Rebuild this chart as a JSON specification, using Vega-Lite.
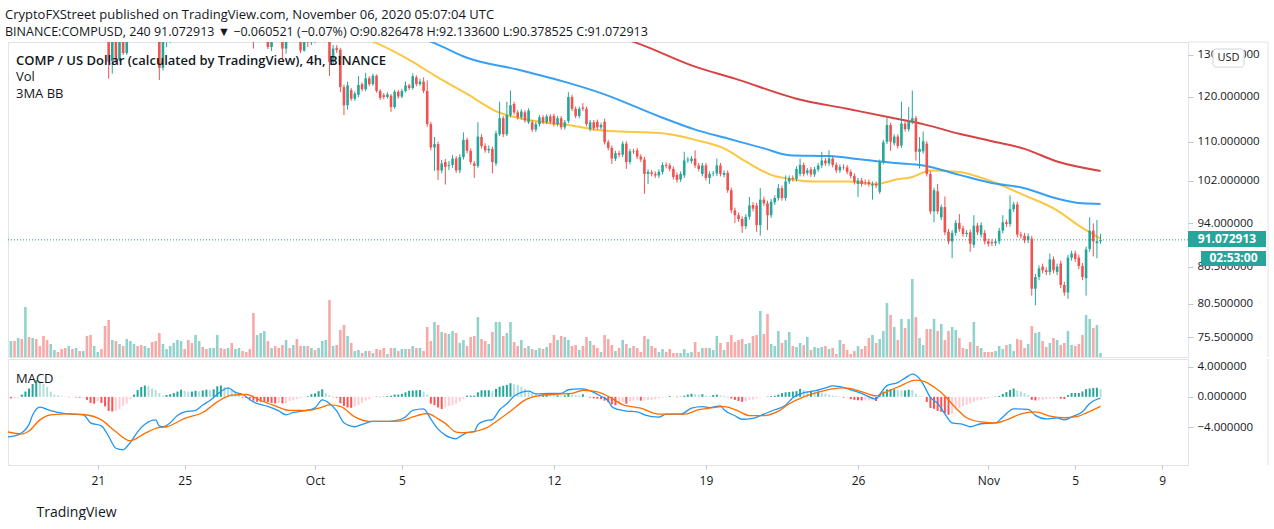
{
  "$schema": "https://vega.github.io/schema/vega-lite/v6.json",
  "description": "COMP / US Dollar 4h candles with 3 moving averages, volume and MACD (TradingView snapshot, Nov 06 2020)",
  "background": "white",
  "padding": {"left": 5, "top": 8, "right": 0, "bottom": 0},
  "title": {
    "text": "CryptoFXStreet published on TradingView.com, November 06, 2020 05:07:04 UTC",
    "subtitle": "BINANCE:COMPUSD, 240  91.072913 ▼ −0.060521 (−0.07%)  O:90.826478  H:92.133600  L:90.378525  C:91.072913",
    "anchor": "start",
    "dx": -2,
    "fontSize": 13,
    "fontWeight": "normal",
    "subtitleFontSize": 12.5,
    "color": "#131722",
    "subtitleColor": "#131722",
    "subtitlePadding": 4,
    "offset": 3
  },
  "datasets": {
    "candles": [
      {"t":"2020-09-17T00:00Z","o":140,"h":143,"l":139.5,"c":142,"v":16,"m":-0.2},
      {"t":"2020-09-17T04:00Z","o":142,"h":143,"l":140,"c":141,"v":16,"m":-0.15},
      {"t":"2020-09-17T08:00Z","o":141,"h":145,"l":140.5,"c":144,"v":19,"m":-0.1},
      {"t":"2020-09-17T12:00Z","o":144,"h":145,"l":142,"c":143,"v":18,"m":0.3},
      {"t":"2020-09-17T16:00Z","o":143,"h":152,"l":142.5,"c":150,"v":50,"m":0.7},
      {"t":"2020-09-17T20:00Z","o":150,"h":151,"l":147,"c":148,"v":20,"m":1.1},
      {"t":"2020-09-18T00:00Z","o":148,"h":152,"l":147.5,"c":151,"v":19,"m":1.7},
      {"t":"2020-09-18T04:00Z","o":151,"h":153,"l":149,"c":150,"v":18,"m":2.2},
      {"t":"2020-09-18T08:00Z","o":150,"h":151,"l":148,"c":149,"v":11,"m":2.1},
      {"t":"2020-09-18T12:00Z","o":149,"h":150,"l":145,"c":146,"v":21,"m":1.7},
      {"t":"2020-09-18T16:00Z","o":146,"h":147,"l":144,"c":145,"v":17,"m":1.3},
      {"t":"2020-09-18T20:00Z","o":145,"h":147,"l":144,"c":146.5,"v":13,"m":0.7},
      {"t":"2020-09-19T00:00Z","o":146.5,"h":148,"l":146,"c":147,"v":7,"m":0.3},
      {"t":"2020-09-19T04:00Z","o":147,"h":148,"l":146,"c":146.5,"v":5,"m":0.2},
      {"t":"2020-09-19T08:00Z","o":146.5,"h":147,"l":145.5,"c":146,"v":8,"m":0.1},
      {"t":"2020-09-19T12:00Z","o":146,"h":146.5,"l":144.5,"c":145,"v":9,"m":0.05},
      {"t":"2020-09-19T16:00Z","o":145,"h":146.5,"l":144.5,"c":146,"v":11,"m":-0.05},
      {"t":"2020-09-19T20:00Z","o":146,"h":146.5,"l":145,"c":145.5,"v":8,"m":-0.05},
      {"t":"2020-09-20T00:00Z","o":145.5,"h":146.5,"l":145,"c":146,"v":9,"m":-0.08},
      {"t":"2020-09-20T04:00Z","o":146,"h":146.5,"l":145,"c":145.5,"v":6,"m":-0.1},
      {"t":"2020-09-20T08:00Z","o":145.5,"h":146.5,"l":145,"c":146,"v":6,"m":-0.1},
      {"t":"2020-09-20T12:00Z","o":146,"h":146.5,"l":141,"c":142,"v":21,"m":-0.4},
      {"t":"2020-09-20T16:00Z","o":142,"h":142.5,"l":138,"c":139,"v":22,"m":-0.8},
      {"t":"2020-09-20T20:00Z","o":139,"h":141,"l":138,"c":140,"v":11,"m":-0.9},
      {"t":"2020-09-21T00:00Z","o":140,"h":141,"l":139.5,"c":140.5,"v":5,"m":-0.6},
      {"t":"2020-09-21T04:00Z","o":140.5,"h":141,"l":138.5,"c":139,"v":8,"m":-0.8},
      {"t":"2020-09-21T08:00Z","o":139,"h":139.5,"l":133.6,"c":134.5,"v":31,"m":-1.26},
      {"t":"2020-09-21T12:00Z","o":134.5,"h":135,"l":124.2,"c":128.3,"v":37,"m":-1.85},
      {"t":"2020-09-21T16:00Z","o":128.5,"h":135,"l":125.4,"c":134,"v":17,"m":-1.93},
      {"t":"2020-09-21T20:00Z","o":134,"h":134.5,"l":127.8,"c":128.5,"v":16,"m":-1.85},
      {"t":"2020-09-22T00:00Z","o":128.8,"h":136,"l":128.5,"c":135.5,"v":13,"m":-1.65},
      {"t":"2020-09-22T04:00Z","o":135.5,"h":136,"l":130,"c":130.5,"v":11,"m":-1.2},
      {"t":"2020-09-22T08:00Z","o":130.5,"h":136.5,"l":130,"c":136,"v":18,"m":-0.9},
      {"t":"2020-09-22T12:00Z","o":136,"h":139,"l":134,"c":138,"v":16,"m":-0.3},
      {"t":"2020-09-22T16:00Z","o":138,"h":141,"l":137.5,"c":140,"v":13,"m":0.3},
      {"t":"2020-09-22T20:00Z","o":140,"h":141,"l":138,"c":139,"v":11,"m":0.9},
      {"t":"2020-09-23T00:00Z","o":139,"h":140,"l":137,"c":138,"v":12,"m":1.3},
      {"t":"2020-09-23T04:00Z","o":138,"h":140,"l":137.5,"c":139,"v":11,"m":1.5},
      {"t":"2020-09-23T08:00Z","o":139,"h":141,"l":138.5,"c":140,"v":9,"m":1.45},
      {"t":"2020-09-23T12:00Z","o":140,"h":140.5,"l":136,"c":137,"v":15,"m":1.1},
      {"t":"2020-09-23T16:00Z","o":137,"h":137.5,"l":133.8,"c":134,"v":16,"m":0.9},
      {"t":"2020-09-23T20:00Z","o":134,"h":134.5,"l":123.9,"c":126.8,"v":24,"m":0.5},
      {"t":"2020-09-24T00:00Z","o":126.8,"h":136,"l":126.2,"c":135,"v":13,"m":0.15},
      {"t":"2020-09-24T04:00Z","o":135,"h":138,"l":132,"c":137,"v":8,"m":0.25},
      {"t":"2020-09-24T08:00Z","o":137,"h":140,"l":133,"c":139,"v":11,"m":0.35},
      {"t":"2020-09-24T12:00Z","o":139,"h":142,"l":138.5,"c":141,"v":14,"m":0.5},
      {"t":"2020-09-24T16:00Z","o":141,"h":144,"l":140.5,"c":143,"v":17,"m":0.7},
      {"t":"2020-09-24T20:00Z","o":143,"h":146,"l":142.5,"c":145,"v":16,"m":0.95},
      {"t":"2020-09-25T00:00Z","o":145,"h":146,"l":143,"c":144,"v":8,"m":0.8},
      {"t":"2020-09-25T04:00Z","o":144,"h":145,"l":141,"c":142,"v":17,"m":0.7},
      {"t":"2020-09-25T08:00Z","o":142,"h":143,"l":140,"c":141,"v":14,"m":0.7},
      {"t":"2020-09-25T12:00Z","o":141,"h":146,"l":140.5,"c":145,"v":22,"m":0.8},
      {"t":"2020-09-25T16:00Z","o":145,"h":148,"l":144.5,"c":147,"v":16,"m":0.75},
      {"t":"2020-09-25T20:00Z","o":147,"h":148,"l":145,"c":146,"v":10,"m":0.85},
      {"t":"2020-09-26T00:00Z","o":146,"h":147,"l":145,"c":145.5,"v":8,"m":0.95},
      {"t":"2020-09-26T04:00Z","o":145.5,"h":148,"l":145,"c":147,"v":9,"m":0.9},
      {"t":"2020-09-26T08:00Z","o":147,"h":149,"l":146.5,"c":148,"v":9,"m":1.0},
      {"t":"2020-09-26T12:00Z","o":148,"h":153,"l":147.5,"c":152,"v":22,"m":1.4},
      {"t":"2020-09-26T16:00Z","o":152,"h":153,"l":150,"c":151,"v":9,"m":1.5},
      {"t":"2020-09-26T20:00Z","o":151,"h":152,"l":149,"c":150,"v":8,"m":1.3},
      {"t":"2020-09-27T00:00Z","o":150,"h":152,"l":149.5,"c":151,"v":9,"m":1.15},
      {"t":"2020-09-27T04:00Z","o":151,"h":151.5,"l":147,"c":148,"v":14,"m":0.9},
      {"t":"2020-09-27T08:00Z","o":148,"h":150,"l":147.5,"c":149,"v":8,"m":0.7},
      {"t":"2020-09-27T12:00Z","o":149,"h":150.5,"l":148.5,"c":149.5,"v":9,"m":0.4},
      {"t":"2020-09-27T16:00Z","o":149.5,"h":150,"l":147.5,"c":148,"v":6,"m":-0.1},
      {"t":"2020-09-27T20:00Z","o":148,"h":148.5,"l":146.5,"c":147,"v":5,"m":-0.15},
      {"t":"2020-09-28T00:00Z","o":147,"h":147.5,"l":144,"c":145,"v":8,"m":-0.25},
      {"t":"2020-09-28T04:00Z","o":145,"h":145.5,"l":131.6,"c":136,"v":44,"m":-0.5},
      {"t":"2020-09-28T08:00Z","o":136,"h":140,"l":135,"c":139,"v":22,"m":-0.65},
      {"t":"2020-09-28T12:00Z","o":139,"h":142,"l":138,"c":141,"v":24,"m":-0.66},
      {"t":"2020-09-28T16:00Z","o":141,"h":143,"l":140,"c":142,"v":26,"m":-0.68},
      {"t":"2020-09-28T20:00Z","o":142,"h":142.5,"l":131.5,"c":132,"v":16,"m":-0.7},
      {"t":"2020-09-29T00:00Z","o":132,"h":138,"l":131,"c":137,"v":9,"m":-0.8},
      {"t":"2020-09-29T04:00Z","o":137,"h":138,"l":135,"c":135.5,"v":11,"m":-0.85},
      {"t":"2020-09-29T08:00Z","o":135.5,"h":136,"l":133.5,"c":134,"v":9,"m":-0.82},
      {"t":"2020-09-29T12:00Z","o":134,"h":134.5,"l":128.7,"c":131.6,"v":12,"m":-0.86},
      {"t":"2020-09-29T16:00Z","o":131.6,"h":137,"l":130.3,"c":136,"v":17,"m":-0.85},
      {"t":"2020-09-29T20:00Z","o":136,"h":137,"l":134,"c":135,"v":9,"m":-0.55},
      {"t":"2020-09-30T00:00Z","o":135,"h":138,"l":134.5,"c":137,"v":12,"m":-0.45},
      {"t":"2020-09-30T04:00Z","o":137,"h":137.5,"l":134,"c":135,"v":18,"m":-0.3},
      {"t":"2020-09-30T08:00Z","o":135,"h":135.5,"l":130.5,"c":131.1,"v":11,"m":-0.15},
      {"t":"2020-09-30T12:00Z","o":131.1,"h":134.5,"l":130.8,"c":134,"v":11,"m":-0.05},
      {"t":"2020-09-30T16:00Z","o":134,"h":135,"l":132,"c":133.2,"v":11,"m":0.1},
      {"t":"2020-09-30T20:00Z","o":133.2,"h":135.5,"l":132.5,"c":134.5,"v":9,"m":0.35},
      {"t":"2020-10-01T00:00Z","o":134.5,"h":135.5,"l":133,"c":133.8,"v":7,"m":0.45},
      {"t":"2020-10-01T04:00Z","o":133.8,"h":136,"l":133.5,"c":135,"v":9,"m":0.75},
      {"t":"2020-10-01T08:00Z","o":135,"h":137.5,"l":134.5,"c":136.5,"v":16,"m":1.0},
      {"t":"2020-10-01T12:00Z","o":136.5,"h":139,"l":136,"c":137.5,"v":17,"m":0.5},
      {"t":"2020-10-01T16:00Z","o":137.5,"h":138,"l":124.8,"c":128.3,"v":57,"m":0.2},
      {"t":"2020-10-01T20:00Z","o":128.3,"h":132.5,"l":127.5,"c":131.6,"v":11,"m":-0.05},
      {"t":"2020-10-02T00:00Z","o":131.8,"h":132.5,"l":130.5,"c":131.3,"v":12,"m":-0.1},
      {"t":"2020-10-02T04:00Z","o":131.3,"h":131.8,"l":121,"c":122.2,"v":27,"m":-0.85},
      {"t":"2020-10-02T08:00Z","o":122.2,"h":122.8,"l":115.8,"c":118,"v":32,"m":-1.2},
      {"t":"2020-10-02T12:00Z","o":118,"h":123.5,"l":117,"c":122.6,"v":21,"m":-1.4},
      {"t":"2020-10-02T16:00Z","o":121.5,"h":122,"l":119,"c":119.5,"v":14,"m":-1.45},
      {"t":"2020-10-02T20:00Z","o":119.5,"h":121.2,"l":119,"c":120.7,"v":6,"m":-1.3},
      {"t":"2020-10-03T00:00Z","o":120.4,"h":124.8,"l":119.8,"c":122.7,"v":7,"m":-1.1},
      {"t":"2020-10-03T04:00Z","o":122.9,"h":123.3,"l":121.2,"c":121.7,"v":4,"m":-0.8},
      {"t":"2020-10-03T08:00Z","o":121.7,"h":125.6,"l":121.2,"c":124.3,"v":6,"m":-0.5},
      {"t":"2020-10-03T12:00Z","o":124.3,"h":124.8,"l":122.4,"c":122.9,"v":6,"m":-0.3},
      {"t":"2020-10-03T16:00Z","o":122.9,"h":125.4,"l":122.5,"c":124.9,"v":4,"m":-0.05},
      {"t":"2020-10-03T20:00Z","o":124.9,"h":125.2,"l":120.9,"c":121.3,"v":8,"m":0.05},
      {"t":"2020-10-04T00:00Z","o":121.3,"h":121.7,"l":119.2,"c":119.7,"v":7,"m":-0.05},
      {"t":"2020-10-04T04:00Z","o":120.3,"h":120.8,"l":119.4,"c":119.9,"v":9,"m":0.05},
      {"t":"2020-10-04T08:00Z","o":119.9,"h":121,"l":119.5,"c":120.5,"v":3,"m":0.1},
      {"t":"2020-10-04T12:00Z","o":120.2,"h":120.6,"l":116.5,"c":117.6,"v":9,"m":0.15},
      {"t":"2020-10-04T16:00Z","o":117.6,"h":121.6,"l":117.2,"c":121.1,"v":9,"m":0.3},
      {"t":"2020-10-04T20:00Z","o":121.1,"h":121.5,"l":119.5,"c":120,"v":6,"m":0.3},
      {"t":"2020-10-05T00:00Z","o":120,"h":121.8,"l":119.6,"c":121.3,"v":8,"m":0.4},
      {"t":"2020-10-05T04:00Z","o":121.3,"h":123.5,"l":121,"c":122.6,"v":8,"m":0.6},
      {"t":"2020-10-05T08:00Z","o":122.6,"h":123,"l":121.5,"c":122,"v":8,"m":0.8},
      {"t":"2020-10-05T12:00Z","o":122,"h":125.5,"l":121.6,"c":124.8,"v":11,"m":0.85},
      {"t":"2020-10-05T16:00Z","o":124.5,"h":125,"l":122.4,"c":122.9,"v":9,"m":0.87},
      {"t":"2020-10-05T20:00Z","o":122.9,"h":124.2,"l":122.5,"c":123.5,"v":9,"m":0.9},
      {"t":"2020-10-06T00:00Z","o":123.5,"h":124.5,"l":120.8,"c":121.3,"v":6,"m":0.7},
      {"t":"2020-10-06T04:00Z","o":121.3,"h":123.8,"l":113.2,"c":113.8,"v":30,"m":0.3},
      {"t":"2020-10-06T08:00Z","o":113.8,"h":114.3,"l":108.2,"c":108.8,"v":16,"m":-0.9},
      {"t":"2020-10-06T12:00Z","o":108.8,"h":111,"l":104,"c":109.5,"v":35,"m":-1.1},
      {"t":"2020-10-06T16:00Z","o":109.5,"h":110,"l":102.2,"c":104.1,"v":32,"m":-1.4},
      {"t":"2020-10-06T20:00Z","o":104.1,"h":106.2,"l":103.5,"c":105.5,"v":25,"m":-1.6},
      {"t":"2020-10-07T00:00Z","o":105.8,"h":106.4,"l":101.3,"c":104.8,"v":24,"m":-1.4},
      {"t":"2020-10-07T04:00Z","o":105,"h":106,"l":104.2,"c":105.2,"v":23,"m":-1.2},
      {"t":"2020-10-07T08:00Z","o":105.2,"h":107.2,"l":104.6,"c":106.5,"v":26,"m":-1.1},
      {"t":"2020-10-07T12:00Z","o":106.5,"h":107,"l":103.6,"c":104.1,"v":24,"m":-0.9},
      {"t":"2020-10-07T16:00Z","o":104.1,"h":107.4,"l":103.5,"c":106.8,"v":14,"m":-0.6},
      {"t":"2020-10-07T20:00Z","o":106.8,"h":112,"l":106.3,"c":110.4,"v":17,"m":-0.25},
      {"t":"2020-10-08T00:00Z","o":110.4,"h":110.9,"l":107.6,"c":108.1,"v":11,"m":0.16},
      {"t":"2020-10-08T04:00Z","o":108.1,"h":108.6,"l":105.3,"c":105.8,"v":20,"m":0.16},
      {"t":"2020-10-08T08:00Z","o":105.5,"h":106,"l":102.6,"c":105,"v":21,"m":0.16},
      {"t":"2020-10-08T12:00Z","o":105,"h":114.2,"l":104.6,"c":111.1,"v":40,"m":0.6},
      {"t":"2020-10-08T16:00Z","o":111,"h":111.6,"l":108.6,"c":109.1,"v":18,"m":0.87},
      {"t":"2020-10-08T20:00Z","o":109.1,"h":109.7,"l":107.7,"c":108.2,"v":16,"m":0.87},
      {"t":"2020-10-09T00:00Z","o":108.2,"h":109.2,"l":107.6,"c":108.5,"v":13,"m":0.87},
      {"t":"2020-10-09T04:00Z","o":108.5,"h":109,"l":103.5,"c":105.8,"v":25,"m":0.75},
      {"t":"2020-10-09T08:00Z","o":105.5,"h":112.4,"l":105,"c":111.8,"v":35,"m":1.06},
      {"t":"2020-10-09T12:00Z","o":111.6,"h":118.8,"l":111.2,"c":115.1,"v":35,"m":1.34},
      {"t":"2020-10-09T16:00Z","o":115.1,"h":115.6,"l":111,"c":111.6,"v":21,"m":1.46},
      {"t":"2020-10-09T20:00Z","o":111.6,"h":118.8,"l":111.2,"c":115.8,"v":24,"m":1.58},
      {"t":"2020-10-10T00:00Z","o":115.8,"h":121.4,"l":115.3,"c":118,"v":35,"m":1.8},
      {"t":"2020-10-10T04:00Z","o":118.3,"h":118.8,"l":115.9,"c":116.4,"v":15,"m":1.66},
      {"t":"2020-10-10T08:00Z","o":116.4,"h":116.9,"l":114.8,"c":115.3,"v":11,"m":1.58},
      {"t":"2020-10-10T12:00Z","o":115.3,"h":117.1,"l":114.8,"c":116.6,"v":17,"m":1.34},
      {"t":"2020-10-10T16:00Z","o":116.4,"h":116.9,"l":114.1,"c":114.6,"v":9,"m":1.06},
      {"t":"2020-10-10T20:00Z","o":114.2,"h":117.3,"l":113.8,"c":116.8,"v":11,"m":0.67},
      {"t":"2020-10-11T00:00Z","o":114.2,"h":114.7,"l":112.1,"c":112.6,"v":8,"m":0.47},
      {"t":"2020-10-11T04:00Z","o":112.6,"h":114.3,"l":112.1,"c":113.8,"v":7,"m":0.35},
      {"t":"2020-10-11T08:00Z","o":113.8,"h":115.8,"l":113.3,"c":115.3,"v":9,"m":0.28},
      {"t":"2020-10-11T12:00Z","o":115.3,"h":115.8,"l":113.8,"c":114.2,"v":8,"m":0.28},
      {"t":"2020-10-11T16:00Z","o":114.2,"h":116,"l":113.8,"c":115.5,"v":10,"m":0.35},
      {"t":"2020-10-11T20:00Z","o":115.5,"h":116,"l":113.8,"c":114.3,"v":14,"m":0.3},
      {"t":"2020-10-12T00:00Z","o":115.6,"h":116.1,"l":113.3,"c":113.8,"v":22,"m":0.2},
      {"t":"2020-10-12T04:00Z","o":113.8,"h":115.6,"l":113.3,"c":115.1,"v":17,"m":0.2},
      {"t":"2020-10-12T08:00Z","o":115.1,"h":115.6,"l":112.6,"c":113.1,"v":21,"m":0.15},
      {"t":"2020-10-12T12:00Z","o":113.1,"h":114.7,"l":112.6,"c":114.2,"v":20,"m":0.2},
      {"t":"2020-10-12T16:00Z","o":114.5,"h":121,"l":114,"c":119.9,"v":17,"m":0.4},
      {"t":"2020-10-12T20:00Z","o":119.9,"h":120.4,"l":116.7,"c":117.2,"v":11,"m":0.3},
      {"t":"2020-10-13T00:00Z","o":117.2,"h":117.7,"l":115.1,"c":115.6,"v":12,"m":0.25},
      {"t":"2020-10-13T04:00Z","o":115.6,"h":117.7,"l":115.1,"c":117.2,"v":7,"m":0.2},
      {"t":"2020-10-13T08:00Z","o":117.5,"h":118.5,"l":116.7,"c":117.2,"v":11,"m":0.35},
      {"t":"2020-10-13T12:00Z","o":117.2,"h":117.7,"l":113.3,"c":113.8,"v":20,"m":0.05},
      {"t":"2020-10-13T16:00Z","o":112.7,"h":114.7,"l":112.2,"c":114.2,"v":16,"m":-0.1},
      {"t":"2020-10-13T20:00Z","o":114.2,"h":114.7,"l":112.4,"c":112.9,"v":12,"m":-0.2},
      {"t":"2020-10-14T00:00Z","o":114.3,"h":114.8,"l":112.6,"c":113.1,"v":9,"m":-0.25},
      {"t":"2020-10-14T04:00Z","o":113.1,"h":114.1,"l":112.6,"c":113.6,"v":5,"m":-0.3},
      {"t":"2020-10-14T08:00Z","o":114.3,"h":115,"l":109.4,"c":109.9,"v":22,"m":-0.5},
      {"t":"2020-10-14T12:00Z","o":109.9,"h":110.4,"l":108.2,"c":108.7,"v":18,"m":-0.7},
      {"t":"2020-10-14T16:00Z","o":108.7,"h":109.2,"l":105.4,"c":106.5,"v":12,"m":-1.0},
      {"t":"2020-10-14T20:00Z","o":106.5,"h":108.1,"l":106,"c":107.6,"v":6,"m":-1.1},
      {"t":"2020-10-15T00:00Z","o":107.6,"h":108.1,"l":106.8,"c":107.3,"v":9,"m":-0.9},
      {"t":"2020-10-15T04:00Z","o":107.3,"h":110.1,"l":106.8,"c":109.6,"v":17,"m":-0.7},
      {"t":"2020-10-15T08:00Z","o":109.6,"h":110.1,"l":104.4,"c":105.8,"v":13,"m":-0.9},
      {"t":"2020-10-15T12:00Z","o":105.8,"h":108.5,"l":105.3,"c":108,"v":9,"m":-0.6},
      {"t":"2020-10-15T16:00Z","o":108,"h":108.5,"l":107.4,"c":107.9,"v":11,"m":-0.5},
      {"t":"2020-10-15T20:00Z","o":108.2,"h":108.7,"l":106.4,"c":106.9,"v":9,"m":-0.45},
      {"t":"2020-10-16T00:00Z","o":106.9,"h":107.4,"l":105.8,"c":106.3,"v":5,"m":-0.5},
      {"t":"2020-10-16T04:00Z","o":106.3,"h":106.8,"l":99.5,"c":103.4,"v":21,"m":-0.5},
      {"t":"2020-10-16T08:00Z","o":103.4,"h":104.3,"l":101.4,"c":103.8,"v":18,"m":-0.4},
      {"t":"2020-10-16T12:00Z","o":103.7,"h":104.2,"l":102.9,"c":103.4,"v":11,"m":-0.4},
      {"t":"2020-10-16T16:00Z","o":103.4,"h":103.9,"l":102.6,"c":103.1,"v":9,"m":-0.3},
      {"t":"2020-10-16T20:00Z","o":103.1,"h":104.3,"l":102.6,"c":103.8,"v":5,"m":-0.2},
      {"t":"2020-10-17T00:00Z","o":103.8,"h":105.7,"l":103.3,"c":105.2,"v":8,"m":-0.1},
      {"t":"2020-10-17T04:00Z","o":105.2,"h":105.7,"l":104.5,"c":105,"v":5,"m":-0.05},
      {"t":"2020-10-17T08:00Z","o":105.1,"h":105.6,"l":103.9,"c":104.4,"v":8,"m":0.1},
      {"t":"2020-10-17T12:00Z","o":104.4,"h":104.9,"l":102.3,"c":102.8,"v":4,"m":0.05},
      {"t":"2020-10-17T16:00Z","o":103.2,"h":103.7,"l":101.7,"c":102.2,"v":4,"m":-0.05},
      {"t":"2020-10-17T20:00Z","o":102.3,"h":103.9,"l":101.8,"c":103.4,"v":4,"m":0.05},
      {"t":"2020-10-18T00:00Z","o":103.1,"h":107.9,"l":102.6,"c":106.1,"v":8,"m":0.15},
      {"t":"2020-10-18T04:00Z","o":106.1,"h":106.8,"l":105.6,"c":106.3,"v":4,"m":0.3},
      {"t":"2020-10-18T08:00Z","o":106,"h":107,"l":105.5,"c":106.5,"v":5,"m":0.4},
      {"t":"2020-10-18T12:00Z","o":106.5,"h":108.2,"l":104.6,"c":105.1,"v":15,"m":0.35},
      {"t":"2020-10-18T16:00Z","o":105.1,"h":105.6,"l":103.9,"c":104.4,"v":5,"m":0.3},
      {"t":"2020-10-18T20:00Z","o":103.4,"h":105.6,"l":102.9,"c":105.1,"v":9,"m":0.35},
      {"t":"2020-10-19T00:00Z","o":105.1,"h":105.6,"l":102.1,"c":102.6,"v":9,"m":0.15},
      {"t":"2020-10-19T04:00Z","o":102.6,"h":103.9,"l":101.4,"c":103.4,"v":9,"m":0.1},
      {"t":"2020-10-19T08:00Z","o":103.4,"h":104,"l":102.9,"c":103.5,"v":7,"m":0.25},
      {"t":"2020-10-19T12:00Z","o":103.5,"h":106.5,"l":103,"c":105.1,"v":21,"m":0.3},
      {"t":"2020-10-19T16:00Z","o":105.1,"h":105.6,"l":102.9,"c":103.4,"v":14,"m":0.2},
      {"t":"2020-10-19T20:00Z","o":103.2,"h":104.1,"l":102.7,"c":103.6,"v":7,"m":0.15},
      {"t":"2020-10-20T00:00Z","o":103.6,"h":104.1,"l":99.7,"c":100.2,"v":15,"m":-0.05},
      {"t":"2020-10-20T04:00Z","o":100.2,"h":100.7,"l":95.9,"c":96.4,"v":22,"m":-0.2},
      {"t":"2020-10-20T08:00Z","o":96.4,"h":96.9,"l":94.1,"c":95.5,"v":15,"m":-0.4},
      {"t":"2020-10-20T12:00Z","o":95.5,"h":96,"l":94.3,"c":94.8,"v":17,"m":-0.55},
      {"t":"2020-10-20T16:00Z","o":94.8,"h":95.3,"l":92.3,"c":93.5,"v":18,"m":-0.65},
      {"t":"2020-10-20T20:00Z","o":93.5,"h":95.7,"l":93,"c":95.2,"v":13,"m":-0.6},
      {"t":"2020-10-21T00:00Z","o":95.2,"h":98.9,"l":94.7,"c":97.3,"v":14,"m":-0.4},
      {"t":"2020-10-21T04:00Z","o":97.4,"h":97.9,"l":96.2,"c":96.7,"v":21,"m":-0.35},
      {"t":"2020-10-21T08:00Z","o":97.3,"h":97.8,"l":92.5,"c":93.7,"v":22,"m":-0.2},
      {"t":"2020-10-21T12:00Z","o":93.7,"h":100.6,"l":91.8,"c":98.4,"v":46,"m":-0.1},
      {"t":"2020-10-21T16:00Z","o":98.4,"h":99,"l":97.2,"c":97.7,"v":23,"m":-0.05},
      {"t":"2020-10-21T20:00Z","o":97.7,"h":98.2,"l":92.8,"c":95.5,"v":43,"m":0.05},
      {"t":"2020-10-22T00:00Z","o":95.5,"h":98.5,"l":95,"c":98,"v":13,"m":0.1},
      {"t":"2020-10-22T04:00Z","o":97.9,"h":99.2,"l":97.4,"c":98.7,"v":11,"m":0.15},
      {"t":"2020-10-22T08:00Z","o":98.7,"h":101.4,"l":98.2,"c":100.6,"v":26,"m":0.3},
      {"t":"2020-10-22T12:00Z","o":100.6,"h":101.1,"l":98.2,"c":98.7,"v":14,"m":0.5},
      {"t":"2020-10-22T16:00Z","o":98.7,"h":103.1,"l":98.2,"c":101.9,"v":17,"m":0.6},
      {"t":"2020-10-22T20:00Z","o":101.9,"h":103.1,"l":101.4,"c":102.6,"v":25,"m":0.65},
      {"t":"2020-10-23T00:00Z","o":102.6,"h":103.1,"l":101.9,"c":102.4,"v":11,"m":0.7},
      {"t":"2020-10-23T04:00Z","o":102.4,"h":104.9,"l":101.9,"c":104.4,"v":10,"m":0.75},
      {"t":"2020-10-23T08:00Z","o":103.4,"h":106.5,"l":102.9,"c":105.2,"v":14,"m":1.06},
      {"t":"2020-10-23T12:00Z","o":105.2,"h":105.7,"l":102.9,"c":103.4,"v":12,"m":0.9},
      {"t":"2020-10-23T16:00Z","o":103.6,"h":104.6,"l":103.1,"c":104.1,"v":20,"m":0.7},
      {"t":"2020-10-23T20:00Z","o":104.3,"h":104.8,"l":102.8,"c":103.3,"v":7,"m":0.8},
      {"t":"2020-10-24T00:00Z","o":103.3,"h":104.8,"l":102.8,"c":104.3,"v":10,"m":0.6},
      {"t":"2020-10-24T04:00Z","o":104.3,"h":105.6,"l":103.8,"c":105.1,"v":9,"m":0.7},
      {"t":"2020-10-24T08:00Z","o":105.1,"h":107.9,"l":104.6,"c":106.1,"v":10,"m":0.6},
      {"t":"2020-10-24T12:00Z","o":106.1,"h":106.6,"l":105,"c":105.5,"v":11,"m":0.45},
      {"t":"2020-10-24T16:00Z","o":105.5,"h":108.2,"l":105,"c":106.5,"v":8,"m":0.3},
      {"t":"2020-10-24T20:00Z","o":106.5,"h":107,"l":104.7,"c":105.2,"v":9,"m":0.2},
      {"t":"2020-10-25T00:00Z","o":105.2,"h":105.7,"l":103.6,"c":104.1,"v":3,"m":0.1},
      {"t":"2020-10-25T04:00Z","o":104.1,"h":105.3,"l":103.6,"c":104.8,"v":17,"m":0.05},
      {"t":"2020-10-25T08:00Z","o":104.8,"h":105.3,"l":104.2,"c":104.7,"v":13,"m":-0.1},
      {"t":"2020-10-25T12:00Z","o":104.7,"h":105.2,"l":103.3,"c":103.8,"v":7,"m":-0.1},
      {"t":"2020-10-25T16:00Z","o":103.8,"h":104.3,"l":102.5,"c":103,"v":3,"m":-0.3},
      {"t":"2020-10-25T20:00Z","o":103,"h":103.5,"l":101.3,"c":101.8,"v":6,"m":-0.4},
      {"t":"2020-10-26T00:00Z","o":101.4,"h":102.6,"l":98.9,"c":102.1,"v":11,"m":-0.45},
      {"t":"2020-10-26T04:00Z","o":102.1,"h":102.6,"l":100.9,"c":101.4,"v":8,"m":-0.47},
      {"t":"2020-10-26T08:00Z","o":101.8,"h":102.3,"l":101.2,"c":101.7,"v":11,"m":-0.47},
      {"t":"2020-10-26T12:00Z","o":101.8,"h":102.3,"l":100.9,"c":101.4,"v":19,"m":-0.47},
      {"t":"2020-10-26T16:00Z","o":101.1,"h":101.9,"l":98.4,"c":101.4,"v":22,"m":-0.45},
      {"t":"2020-10-26T20:00Z","o":101.4,"h":101.9,"l":100.6,"c":101.1,"v":14,"m":-0.55},
      {"t":"2020-10-27T00:00Z","o":99.9,"h":106.3,"l":99.5,"c":105.8,"v":18,"m":0.3},
      {"t":"2020-10-27T04:00Z","o":105.8,"h":110.4,"l":105.3,"c":109.9,"v":26,"m":0.7},
      {"t":"2020-10-27T08:00Z","o":110,"h":115.2,"l":109.5,"c":113.6,"v":54,"m":1.0},
      {"t":"2020-10-27T12:00Z","o":113.6,"h":114.1,"l":108.1,"c":110,"v":42,"m":1.0},
      {"t":"2020-10-27T16:00Z","o":109.7,"h":111.6,"l":109.2,"c":111.1,"v":30,"m":1.0},
      {"t":"2020-10-27T20:00Z","o":111.1,"h":111.6,"l":108.6,"c":109.1,"v":17,"m":0.9},
      {"t":"2020-10-28T00:00Z","o":109.2,"h":118.8,"l":108.7,"c":113.9,"v":38,"m":0.85},
      {"t":"2020-10-28T04:00Z","o":113.9,"h":114.4,"l":112.2,"c":112.7,"v":29,"m":0.85},
      {"t":"2020-10-28T08:00Z","o":112.7,"h":117.6,"l":112.2,"c":114.3,"v":38,"m":0.95},
      {"t":"2020-10-28T12:00Z","o":114.3,"h":121.4,"l":113.8,"c":115.1,"v":78,"m":0.9},
      {"t":"2020-10-28T16:00Z","o":115.1,"h":115.6,"l":106.1,"c":107.9,"v":40,"m":0.4},
      {"t":"2020-10-28T20:00Z","o":107.9,"h":111,"l":104.5,"c":108.5,"v":19,"m":0.1},
      {"t":"2020-10-29T00:00Z","o":108,"h":112.2,"l":107.5,"c":110.1,"v":12,"m":0.05},
      {"t":"2020-10-29T04:00Z","o":109.6,"h":110.1,"l":102.9,"c":103.4,"v":28,"m":-0.67},
      {"t":"2020-10-29T08:00Z","o":103.4,"h":103.9,"l":95.7,"c":96.2,"v":28,"m":-1.46},
      {"t":"2020-10-29T12:00Z","o":96.2,"h":100.7,"l":94.2,"c":100.2,"v":38,"m":-1.58},
      {"t":"2020-10-29T16:00Z","o":100,"h":101.4,"l":95.7,"c":96.2,"v":26,"m":-1.86},
      {"t":"2020-10-29T20:00Z","o":95.1,"h":97.5,"l":94.6,"c":97,"v":33,"m":-1.97},
      {"t":"2020-10-30T00:00Z","o":97,"h":99,"l":91.9,"c":92.4,"v":17,"m":-2.13},
      {"t":"2020-10-30T04:00Z","o":92.5,"h":93,"l":90.3,"c":90.8,"v":26,"m":-2.37},
      {"t":"2020-10-30T08:00Z","o":90.8,"h":92.8,"l":87.9,"c":92.3,"v":30,"m":-2.25},
      {"t":"2020-10-30T12:00Z","o":92.3,"h":94.6,"l":91.8,"c":94.1,"v":27,"m":-1.74},
      {"t":"2020-10-30T16:00Z","o":94.1,"h":95.7,"l":92.5,"c":93,"v":19,"m":-1.46},
      {"t":"2020-10-30T20:00Z","o":93.1,"h":93.6,"l":91.6,"c":92.1,"v":9,"m":-1.26},
      {"t":"2020-10-31T00:00Z","o":92.1,"h":92.8,"l":91.6,"c":92.3,"v":8,"m":-1.07},
      {"t":"2020-10-31T04:00Z","o":92.4,"h":92.9,"l":89,"c":90.4,"v":15,"m":-0.87},
      {"t":"2020-10-31T08:00Z","o":90.2,"h":95.5,"l":89.7,"c":93.6,"v":35,"m":-0.67},
      {"t":"2020-10-31T12:00Z","o":93.6,"h":94.1,"l":91.9,"c":92.4,"v":11,"m":-0.47},
      {"t":"2020-10-31T16:00Z","o":92,"h":94.2,"l":91.5,"c":93.7,"v":9,"m":-0.4},
      {"t":"2020-10-31T20:00Z","o":92.3,"h":92.8,"l":90.3,"c":90.8,"v":5,"m":-0.28},
      {"t":"2020-11-01T00:00Z","o":90.8,"h":91.3,"l":89.9,"c":90.4,"v":5,"m":-0.16},
      {"t":"2020-11-01T04:00Z","o":90.7,"h":91.2,"l":90,"c":90.5,"v":5,"m":-0.08},
      {"t":"2020-11-01T08:00Z","o":90.5,"h":91.3,"l":90,"c":90.8,"v":6,"m":0.05},
      {"t":"2020-11-01T12:00Z","o":90.8,"h":93.2,"l":90.3,"c":92.7,"v":11,"m":0.12},
      {"t":"2020-11-01T16:00Z","o":92.7,"h":95.5,"l":92.2,"c":94.2,"v":8,"m":0.39},
      {"t":"2020-11-01T20:00Z","o":94.2,"h":94.7,"l":93.4,"c":93.9,"v":12,"m":0.63},
      {"t":"2020-11-02T00:00Z","o":93.9,"h":99.2,"l":93.4,"c":96.6,"v":13,"m":0.9},
      {"t":"2020-11-02T04:00Z","o":96.6,"h":98,"l":96.1,"c":97.5,"v":6,"m":1.1},
      {"t":"2020-11-02T08:00Z","o":97.5,"h":98,"l":91.5,"c":92,"v":18,"m":0.83},
      {"t":"2020-11-02T12:00Z","o":92,"h":92.5,"l":91.3,"c":91.8,"v":17,"m":0.71},
      {"t":"2020-11-02T16:00Z","o":91.8,"h":92.3,"l":90.5,"c":91,"v":9,"m":0.51},
      {"t":"2020-11-02T20:00Z","o":91,"h":92.2,"l":90.5,"c":91.7,"v":13,"m":0.24},
      {"t":"2020-11-03T00:00Z","o":91.3,"h":91.8,"l":81.8,"c":82.9,"v":31,"m":-0.4},
      {"t":"2020-11-03T04:00Z","o":82.9,"h":85.3,"l":80.3,"c":84.8,"v":24,"m":-0.47},
      {"t":"2020-11-03T08:00Z","o":84.8,"h":86.7,"l":84.3,"c":86.2,"v":25,"m":-0.47},
      {"t":"2020-11-03T12:00Z","o":86.5,"h":87,"l":85.4,"c":85.9,"v":16,"m":-0.4},
      {"t":"2020-11-03T16:00Z","o":85.9,"h":86.4,"l":85.1,"c":85.6,"v":10,"m":-0.3},
      {"t":"2020-11-03T20:00Z","o":85.6,"h":88.7,"l":85.1,"c":87.7,"v":14,"m":-0.24},
      {"t":"2020-11-04T00:00Z","o":87.7,"h":88.2,"l":85.4,"c":85.9,"v":19,"m":-0.24},
      {"t":"2020-11-04T04:00Z","o":85.6,"h":87,"l":85.1,"c":86.5,"v":17,"m":-0.16},
      {"t":"2020-11-04T08:00Z","o":87,"h":87.5,"l":83,"c":83.5,"v":12,"m":-0.24},
      {"t":"2020-11-04T12:00Z","o":83.5,"h":84,"l":81.8,"c":82.3,"v":14,"m":-0.28},
      {"t":"2020-11-04T16:00Z","o":82.3,"h":88.5,"l":81.3,"c":88,"v":26,"m":0.24},
      {"t":"2020-11-04T20:00Z","o":88,"h":89.2,"l":87.5,"c":88.7,"v":12,"m":0.51},
      {"t":"2020-11-05T00:00Z","o":88.7,"h":89.2,"l":87.3,"c":87.8,"v":11,"m":0.51},
      {"t":"2020-11-05T04:00Z","o":88,"h":88.5,"l":86.1,"c":86.6,"v":13,"m":0.51},
      {"t":"2020-11-05T08:00Z","o":86.6,"h":87.1,"l":84.3,"c":84.8,"v":22,"m":0.71},
      {"t":"2020-11-05T12:00Z","o":84.6,"h":89.9,"l":81.8,"c":89.4,"v":42,"m":1.02},
      {"t":"2020-11-05T16:00Z","o":89.5,"h":95.1,"l":89,"c":92.7,"v":38,"m":1.1},
      {"t":"2020-11-05T20:00Z","o":92.7,"h":94,"l":88.2,"c":90.8,"v":29,"m":1.18},
      {"t":"2020-11-06T00:00Z","o":90.5,"h":94.6,"l":87.9,"c":90.83,"v":32,"m":1.2},
      {"t":"2020-11-06T04:00Z","o":90.826478,"h":92.1336,"l":90.378525,"c":91.072913,"v":4,"m":1.05}
    ],
    "ma": [
      {"t":"2020-10-01T16:00Z","s":"ma1","v":137},
      {"t":"2020-10-03T20:00Z","s":"ma1","v":133},
      {"t":"2020-10-05T12:00Z","s":"ma1","v":128.3},
      {"t":"2020-10-06T12:00Z","s":"ma1","v":125},
      {"t":"2020-10-08T00:00Z","s":"ma1","v":120.6},
      {"t":"2020-10-09T12:00Z","s":"ma1","v":116.3},
      {"t":"2020-10-10T08:00Z","s":"ma1","v":115.2},
      {"t":"2020-10-11T20:00Z","s":"ma1","v":114},
      {"t":"2020-10-12T16:00Z","s":"ma1","v":113.6},
      {"t":"2020-10-14T04:00Z","s":"ma1","v":112.4},
      {"t":"2020-10-15T20:00Z","s":"ma1","v":112.1},
      {"t":"2020-10-17T08:00Z","s":"ma1","v":111.6},
      {"t":"2020-10-18T12:00Z","s":"ma1","v":110.4},
      {"t":"2020-10-19T20:00Z","s":"ma1","v":108.6},
      {"t":"2020-10-20T20:00Z","s":"ma1","v":105.9},
      {"t":"2020-10-22T00:00Z","s":"ma1","v":103.2},
      {"t":"2020-10-22T20:00Z","s":"ma1","v":102.4},
      {"t":"2020-10-24T00:00Z","s":"ma1","v":101.9},
      {"t":"2020-10-25T12:00Z","s":"ma1","v":101.9},
      {"t":"2020-10-26T20:00Z","s":"ma1","v":101.4},
      {"t":"2020-10-27T16:00Z","s":"ma1","v":102.2},
      {"t":"2020-10-28T12:00Z","s":"ma1","v":102.8},
      {"t":"2020-10-29T08:00Z","s":"ma1","v":104.1},
      {"t":"2020-10-30T16:00Z","s":"ma1","v":103.8},
      {"t":"2020-11-01T04:00Z","s":"ma1","v":101.9},
      {"t":"2020-11-02T16:00Z","s":"ma1","v":99.2},
      {"t":"2020-11-04T04:00Z","s":"ma1","v":96.4},
      {"t":"2020-11-05T04:00Z","s":"ma1","v":93.6},
      {"t":"2020-11-06T04:00Z","s":"ma1","v":91.3},
      {"t":"2020-10-05T00:00Z","s":"ma2","v":136},
      {"t":"2020-10-06T12:00Z","s":"ma2","v":133},
      {"t":"2020-10-08T00:00Z","s":"ma2","v":129.3},
      {"t":"2020-10-10T08:00Z","s":"ma2","v":126.4},
      {"t":"2020-10-12T16:00Z","s":"ma2","v":123.2},
      {"t":"2020-10-14T04:00Z","s":"ma2","v":120.8},
      {"t":"2020-10-17T00:00Z","s":"ma2","v":115.2},
      {"t":"2020-10-18T12:00Z","s":"ma2","v":112.6},
      {"t":"2020-10-20T00:00Z","s":"ma2","v":110.7},
      {"t":"2020-10-21T16:00Z","s":"ma2","v":108.6},
      {"t":"2020-10-22T20:00Z","s":"ma2","v":107.2},
      {"t":"2020-10-24T16:00Z","s":"ma2","v":107},
      {"t":"2020-10-26T04:00Z","s":"ma2","v":106.3},
      {"t":"2020-10-27T16:00Z","s":"ma2","v":105.6},
      {"t":"2020-10-29T00:00Z","s":"ma2","v":105.1},
      {"t":"2020-10-30T16:00Z","s":"ma2","v":103.2},
      {"t":"2020-11-01T04:00Z","s":"ma2","v":101.6},
      {"t":"2020-11-02T16:00Z","s":"ma2","v":100.6},
      {"t":"2020-11-04T04:00Z","s":"ma2","v":98.6},
      {"t":"2020-11-05T08:00Z","s":"ma2","v":97.7},
      {"t":"2020-11-06T04:00Z","s":"ma2","v":97.6},
      {"t":"2020-10-14T04:00Z","s":"ma3","v":136},
      {"t":"2020-10-15T20:00Z","s":"ma3","v":133},
      {"t":"2020-10-18T12:00Z","s":"ma3","v":127.1},
      {"t":"2020-10-20T08:00Z","s":"ma3","v":124.2},
      {"t":"2020-10-23T04:00Z","s":"ma3","v":119.5},
      {"t":"2020-10-25T12:00Z","s":"ma3","v":117.2},
      {"t":"2020-10-27T16:00Z","s":"ma3","v":115.1},
      {"t":"2020-10-29T00:00Z","s":"ma3","v":113.8},
      {"t":"2020-10-30T16:00Z","s":"ma3","v":111.7},
      {"t":"2020-11-01T04:00Z","s":"ma3","v":110.1},
      {"t":"2020-11-02T16:00Z","s":"ma3","v":108.5},
      {"t":"2020-11-04T04:00Z","s":"ma3","v":105.9},
      {"t":"2020-11-06T04:00Z","s":"ma3","v":104}
    ],
    "macd": [
      {"t":"2020-09-16T20:00Z","s":"macd","v":-5.3},
      {"t":"2020-09-17T08:00Z","s":"macd","v":-5.01},
      {"t":"2020-09-17T20:00Z","s":"macd","v":-3.63},
      {"t":"2020-09-18T00:00Z","s":"macd","v":-2.4},
      {"t":"2020-09-18T08:00Z","s":"macd","v":-1.35},
      {"t":"2020-09-18T16:00Z","s":"macd","v":-1.66},
      {"t":"2020-09-19T04:00Z","s":"macd","v":-2.06},
      {"t":"2020-09-19T16:00Z","s":"macd","v":-2.25},
      {"t":"2020-09-20T08:00Z","s":"macd","v":-2.37},
      {"t":"2020-09-20T16:00Z","s":"macd","v":-3.43},
      {"t":"2020-09-21T04:00Z","s":"macd","v":-3.83},
      {"t":"2020-09-21T12:00Z","s":"macd","v":-5.21},
      {"t":"2020-09-21T20:00Z","s":"macd","v":-6.79},
      {"t":"2020-09-22T04:00Z","s":"macd","v":-6.99},
      {"t":"2020-09-22T12:00Z","s":"macd","v":-6.0},
      {"t":"2020-09-22T20:00Z","s":"macd","v":-4.62},
      {"t":"2020-09-23T04:00Z","s":"macd","v":-3.63},
      {"t":"2020-09-23T16:00Z","s":"macd","v":-3.04},
      {"t":"2020-09-23T20:00Z","s":"macd","v":-3.83},
      {"t":"2020-09-24T00:00Z","s":"macd","v":-3.95},
      {"t":"2020-09-24T08:00Z","s":"macd","v":-3.43},
      {"t":"2020-09-24T16:00Z","s":"macd","v":-2.45},
      {"t":"2020-09-25T00:00Z","s":"macd","v":-1.98},
      {"t":"2020-09-25T12:00Z","s":"macd","v":-1.78},
      {"t":"2020-09-25T20:00Z","s":"macd","v":-1.07},
      {"t":"2020-09-26T04:00Z","s":"macd","v":-0.48},
      {"t":"2020-09-26T16:00Z","s":"macd","v":0.71},
      {"t":"2020-09-27T00:00Z","s":"macd","v":1.18},
      {"t":"2020-09-27T08:00Z","s":"macd","v":0.59},
      {"t":"2020-09-27T16:00Z","s":"macd","v":0.31},
      {"t":"2020-09-28T04:00Z","s":"macd","v":-0.67},
      {"t":"2020-09-28T20:00Z","s":"macd","v":-1.27},
      {"t":"2020-09-29T08:00Z","s":"macd","v":-1.86},
      {"t":"2020-09-29T16:00Z","s":"macd","v":-2.37},
      {"t":"2020-09-30T00:00Z","s":"macd","v":-2.06},
      {"t":"2020-09-30T12:00Z","s":"macd","v":-1.86},
      {"t":"2020-10-01T00:00Z","s":"macd","v":-1.46},
      {"t":"2020-10-01T08:00Z","s":"macd","v":-0.4},
      {"t":"2020-10-01T16:00Z","s":"macd","v":-0.87},
      {"t":"2020-10-02T00:00Z","s":"macd","v":-1.86},
      {"t":"2020-10-02T08:00Z","s":"macd","v":-3.43},
      {"t":"2020-10-02T20:00Z","s":"macd","v":-3.95},
      {"t":"2020-10-03T04:00Z","s":"macd","v":-3.63},
      {"t":"2020-10-03T16:00Z","s":"macd","v":-3.24},
      {"t":"2020-10-04T04:00Z","s":"macd","v":-3.24},
      {"t":"2020-10-04T16:00Z","s":"macd","v":-3.16},
      {"t":"2020-10-05T04:00Z","s":"macd","v":-2.65},
      {"t":"2020-10-05T12:00Z","s":"macd","v":-1.78},
      {"t":"2020-10-06T00:00Z","s":"macd","v":-1.58},
      {"t":"2020-10-06T08:00Z","s":"macd","v":-2.95},
      {"t":"2020-10-06T16:00Z","s":"macd","v":-4.27},
      {"t":"2020-10-07T00:00Z","s":"macd","v":-5.05},
      {"t":"2020-10-07T12:00Z","s":"macd","v":-5.53},
      {"t":"2020-10-07T16:00Z","s":"macd","v":-5.25},
      {"t":"2020-10-08T00:00Z","s":"macd","v":-4.73},
      {"t":"2020-10-08T08:00Z","s":"macd","v":-4.58},
      {"t":"2020-10-08T12:00Z","s":"macd","v":-3.67},
      {"t":"2020-10-08T20:00Z","s":"macd","v":-3.16},
      {"t":"2020-10-09T04:00Z","s":"macd","v":-3.0},
      {"t":"2020-10-09T12:00Z","s":"macd","v":-1.7},
      {"t":"2020-10-09T20:00Z","s":"macd","v":-0.91},
      {"t":"2020-10-10T04:00Z","s":"macd","v":0.08},
      {"t":"2020-10-10T12:00Z","s":"macd","v":0.59},
      {"t":"2020-10-10T20:00Z","s":"macd","v":0.75},
      {"t":"2020-10-11T04:00Z","s":"macd","v":0.39},
      {"t":"2020-10-11T20:00Z","s":"macd","v":0.47},
      {"t":"2020-10-12T08:00Z","s":"macd","v":0.47},
      {"t":"2020-10-12T16:00Z","s":"macd","v":0.94},
      {"t":"2020-10-13T04:00Z","s":"macd","v":1.06},
      {"t":"2020-10-13T08:00Z","s":"macd","v":1.06},
      {"t":"2020-10-13T20:00Z","s":"macd","v":0.59},
      {"t":"2020-10-14T04:00Z","s":"macd","v":0.08},
      {"t":"2020-10-14T12:00Z","s":"macd","v":-0.51},
      {"t":"2020-10-14T16:00Z","s":"macd","v":-1.3},
      {"t":"2020-10-15T00:00Z","s":"macd","v":-1.7},
      {"t":"2020-10-15T08:00Z","s":"macd","v":-1.89},
      {"t":"2020-10-15T20:00Z","s":"macd","v":-1.97},
      {"t":"2020-10-16T04:00Z","s":"macd","v":-2.37},
      {"t":"2020-10-16T20:00Z","s":"macd","v":-2.68},
      {"t":"2020-10-17T04:00Z","s":"macd","v":-2.29},
      {"t":"2020-10-17T20:00Z","s":"macd","v":-2.29},
      {"t":"2020-10-18T08:00Z","s":"macd","v":-1.5},
      {"t":"2020-10-18T20:00Z","s":"macd","v":-1.3},
      {"t":"2020-10-19T04:00Z","s":"macd","v":-1.42},
      {"t":"2020-10-19T16:00Z","s":"macd","v":-1.18},
      {"t":"2020-10-19T20:00Z","s":"macd","v":-1.7},
      {"t":"2020-10-20T08:00Z","s":"macd","v":-2.49},
      {"t":"2020-10-20T16:00Z","s":"macd","v":-2.96},
      {"t":"2020-10-21T04:00Z","s":"macd","v":-2.84},
      {"t":"2020-10-21T16:00Z","s":"macd","v":-2.29},
      {"t":"2020-10-22T04:00Z","s":"macd","v":-1.7},
      {"t":"2020-10-22T16:00Z","s":"macd","v":-1.11},
      {"t":"2020-10-23T00:00Z","s":"macd","v":-0.11},
      {"t":"2020-10-23T12:00Z","s":"macd","v":0.55},
      {"t":"2020-10-24T00:00Z","s":"macd","v":0.79},
      {"t":"2020-10-24T12:00Z","s":"macd","v":1.18},
      {"t":"2020-10-24T20:00Z","s":"macd","v":1.46},
      {"t":"2020-10-25T04:00Z","s":"macd","v":1.34},
      {"t":"2020-10-25T16:00Z","s":"macd","v":0.92},
      {"t":"2020-10-26T04:00Z","s":"macd","v":0.45},
      {"t":"2020-10-26T20:00Z","s":"macd","v":-0.28},
      {"t":"2020-10-27T00:00Z","s":"macd","v":0.31},
      {"t":"2020-10-27T08:00Z","s":"macd","v":1.49},
      {"t":"2020-10-27T20:00Z","s":"macd","v":1.89},
      {"t":"2020-10-28T04:00Z","s":"macd","v":2.48},
      {"t":"2020-10-28T12:00Z","s":"macd","v":2.99},
      {"t":"2020-10-28T20:00Z","s":"macd","v":2.4},
      {"t":"2020-10-29T00:00Z","s":"macd","v":1.69},
      {"t":"2020-10-29T08:00Z","s":"macd","v":-0.08},
      {"t":"2020-10-29T16:00Z","s":"macd","v":-0.87},
      {"t":"2020-10-30T00:00Z","s":"macd","v":-2.25},
      {"t":"2020-10-30T08:00Z","s":"macd","v":-3.43},
      {"t":"2020-10-30T20:00Z","s":"macd","v":-3.63},
      {"t":"2020-10-31T04:00Z","s":"macd","v":-3.95},
      {"t":"2020-10-31T16:00Z","s":"macd","v":-3.55},
      {"t":"2020-11-01T08:00Z","s":"macd","v":-3.43},
      {"t":"2020-11-01T16:00Z","s":"macd","v":-2.65},
      {"t":"2020-11-02T04:00Z","s":"macd","v":-1.58},
      {"t":"2020-11-02T20:00Z","s":"macd","v":-1.66},
      {"t":"2020-11-03T04:00Z","s":"macd","v":-2.45},
      {"t":"2020-11-03T16:00Z","s":"macd","v":-2.92},
      {"t":"2020-11-04T04:00Z","s":"macd","v":-2.76},
      {"t":"2020-11-04T12:00Z","s":"macd","v":-3.04},
      {"t":"2020-11-04T20:00Z","s":"macd","v":-2.65},
      {"t":"2020-11-05T08:00Z","s":"macd","v":-1.98},
      {"t":"2020-11-05T16:00Z","s":"macd","v":-0.87},
      {"t":"2020-11-06T04:00Z","s":"macd","v":-0.16},
      {"t":"2020-09-16T20:00Z","s":"signal","v":-4.62},
      {"t":"2020-09-17T12:00Z","s":"signal","v":-4.9},
      {"t":"2020-09-17T20:00Z","s":"signal","v":-4.5},
      {"t":"2020-09-18T08:00Z","s":"signal","v":-3.04},
      {"t":"2020-09-18T20:00Z","s":"signal","v":-2.37},
      {"t":"2020-09-19T16:00Z","s":"signal","v":-2.25},
      {"t":"2020-09-20T08:00Z","s":"signal","v":-2.33},
      {"t":"2020-09-21T04:00Z","s":"signal","v":-3.04},
      {"t":"2020-09-21T20:00Z","s":"signal","v":-4.62},
      {"t":"2020-09-22T12:00Z","s":"signal","v":-5.8},
      {"t":"2020-09-23T04:00Z","s":"signal","v":-4.82},
      {"t":"2020-09-23T20:00Z","s":"signal","v":-4.03},
      {"t":"2020-09-24T04:00Z","s":"signal","v":-3.95},
      {"t":"2020-09-25T00:00Z","s":"signal","v":-2.85},
      {"t":"2020-09-25T20:00Z","s":"signal","v":-2.06},
      {"t":"2020-09-26T12:00Z","s":"signal","v":-0.67},
      {"t":"2020-09-27T04:00Z","s":"signal","v":0.24},
      {"t":"2020-09-27T20:00Z","s":"signal","v":0.31},
      {"t":"2020-09-28T12:00Z","s":"signal","v":-0.48},
      {"t":"2020-09-29T04:00Z","s":"signal","v":-1.19},
      {"t":"2020-09-29T20:00Z","s":"signal","v":-1.78},
      {"t":"2020-09-30T16:00Z","s":"signal","v":-1.78},
      {"t":"2020-10-01T08:00Z","s":"signal","v":-1.35},
      {"t":"2020-10-01T16:00Z","s":"signal","v":-1.07},
      {"t":"2020-10-02T04:00Z","s":"signal","v":-1.27},
      {"t":"2020-10-02T20:00Z","s":"signal","v":-2.65},
      {"t":"2020-10-03T12:00Z","s":"signal","v":-3.24},
      {"t":"2020-10-04T04:00Z","s":"signal","v":-3.24},
      {"t":"2020-10-05T00:00Z","s":"signal","v":-3.16},
      {"t":"2020-10-05T12:00Z","s":"signal","v":-2.65},
      {"t":"2020-10-06T04:00Z","s":"signal","v":-2.2},
      {"t":"2020-10-06T16:00Z","s":"signal","v":-2.9},
      {"t":"2020-10-07T00:00Z","s":"signal","v":-3.5},
      {"t":"2020-10-07T12:00Z","s":"signal","v":-4.65},
      {"t":"2020-10-07T20:00Z","s":"signal","v":-4.73},
      {"t":"2020-10-08T08:00Z","s":"signal","v":-4.58},
      {"t":"2020-10-09T00:00Z","s":"signal","v":-3.95},
      {"t":"2020-10-09T08:00Z","s":"signal","v":-3.28},
      {"t":"2020-10-10T00:00Z","s":"signal","v":-1.89},
      {"t":"2020-10-10T16:00Z","s":"signal","v":-0.43},
      {"t":"2020-10-11T08:00Z","s":"signal","v":0.16},
      {"t":"2020-10-12T04:00Z","s":"signal","v":0.35},
      {"t":"2020-10-12T20:00Z","s":"signal","v":0.47},
      {"t":"2020-10-13T08:00Z","s":"signal","v":0.87},
      {"t":"2020-10-14T00:00Z","s":"signal","v":0.67},
      {"t":"2020-10-14T12:00Z","s":"signal","v":0.08},
      {"t":"2020-10-15T04:00Z","s":"signal","v":-1.03},
      {"t":"2020-10-16T00:00Z","s":"signal","v":-1.5},
      {"t":"2020-10-16T20:00Z","s":"signal","v":-2.29},
      {"t":"2020-10-17T08:00Z","s":"signal","v":-2.29},
      {"t":"2020-10-18T00:00Z","s":"signal","v":-2.29},
      {"t":"2020-10-18T16:00Z","s":"signal","v":-1.7},
      {"t":"2020-10-19T04:00Z","s":"signal","v":-1.5},
      {"t":"2020-10-19T20:00Z","s":"signal","v":-1.3},
      {"t":"2020-10-20T12:00Z","s":"signal","v":-1.89},
      {"t":"2020-10-21T00:00Z","s":"signal","v":-2.49},
      {"t":"2020-10-21T16:00Z","s":"signal","v":-2.49},
      {"t":"2020-10-22T08:00Z","s":"signal","v":-1.89},
      {"t":"2020-10-22T20:00Z","s":"signal","v":-0.91},
      {"t":"2020-10-23T12:00Z","s":"signal","v":0.0},
      {"t":"2020-10-24T04:00Z","s":"signal","v":0.63},
      {"t":"2020-10-24T20:00Z","s":"signal","v":1.06},
      {"t":"2020-10-25T08:00Z","s":"signal","v":1.18},
      {"t":"2020-10-25T16:00Z","s":"signal","v":1.1},
      {"t":"2020-10-26T08:00Z","s":"signal","v":0.51},
      {"t":"2020-10-26T20:00Z","s":"signal","v":0.12},
      {"t":"2020-10-27T04:00Z","s":"signal","v":0.51},
      {"t":"2020-10-27T20:00Z","s":"signal","v":1.3},
      {"t":"2020-10-28T16:00Z","s":"signal","v":2.21},
      {"t":"2020-10-29T00:00Z","s":"signal","v":2.09},
      {"t":"2020-10-29T12:00Z","s":"signal","v":1.3},
      {"t":"2020-10-30T00:00Z","s":"signal","v":0.12},
      {"t":"2020-10-30T12:00Z","s":"signal","v":-1.46},
      {"t":"2020-10-31T00:00Z","s":"signal","v":-2.76},
      {"t":"2020-10-31T16:00Z","s":"signal","v":-3.31},
      {"t":"2020-11-01T08:00Z","s":"signal","v":-3.43},
      {"t":"2020-11-01T20:00Z","s":"signal","v":-3.04},
      {"t":"2020-11-02T12:00Z","s":"signal","v":-2.25},
      {"t":"2020-11-03T04:00Z","s":"signal","v":-1.98},
      {"t":"2020-11-03T20:00Z","s":"signal","v":-2.53},
      {"t":"2020-11-04T12:00Z","s":"signal","v":-2.76},
      {"t":"2020-11-05T04:00Z","s":"signal","v":-2.53},
      {"t":"2020-11-05T12:00Z","s":"signal","v":-2.14},
      {"t":"2020-11-06T04:00Z","s":"signal","v":-1.26}
    ]
  },
  "spacing": 0,
  "vconcat": [
    {
      "width": 1180,
      "height": 315,
      "layer": [
        {
          "data": {"name": "candles"},
          "mark": {"type": "bar", "size": 2.6, "opacity": 0.5},
          "encoding": {
            "x": {"field": "t", "type": "temporal", "axis": null,
                  "scale": {"type": "utc", "padding": 0, "domain": [{"year": 2020, "month": 9, "date": 16, "hours": 20, "minutes": 47, "utc": true}, {"year": 2020, "month": 11, "date": 10, "hours": 4, "minutes": 38, "utc": true}]}},
            "y": {"field": "v", "type": "quantitative", "scale": {"domain": [0, 315]}, "axis": null},
            "color": {"condition": {"test": "datum.c >= datum.o", "value": "#26a69a"}, "value": "#ef5350"}
          }
        },
        {
          "layer": [
            {
              "data": {"values": [{}]},
              "mark": {"type": "rule", "color": "#26a69a", "strokeDash": [1, 2], "strokeWidth": 1},
              "encoding": {
                "y": {"datum": 91.072913, "type": "quantitative",
                      "scale": {"type": "log", "domain": [72.69, 133.28]},
                      "axis": {"orient": "right", "title": null, "values": [75.5, 80.5, 86.5, 94, 102, 110, 120, 130], "format": ".6f", "tickSize": 5, "labelPadding": 4, "labelOverlap": false}}
              }
            },
            {
              "data": {"name": "ma"},
              "mark": {"type": "line", "strokeWidth": 2, "clip": true, "interpolate": "monotone", "opacity": 0.9},
              "encoding": {
                "x": {"field": "t", "type": "temporal", "axis": null},
                "y": {"field": "v", "type": "quantitative", "scale": {"type": "log", "domain": [72.69, 133.28]}, "title": null},
                "color": {"field": "s", "type": "nominal", "legend": null,
                          "scale": {"domain": ["ma1", "ma2", "ma3", "macd", "signal"], "range": ["#fbc02d", "#2196f3", "#d32f2f", "#2196f3", "#ff6d00"]}}
              }
            },
            {
              "data": {"name": "candles"},
              "mark": {"type": "rule", "strokeWidth": 1, "clip": true},
              "encoding": {
                "x": {"field": "t", "type": "temporal", "axis": null},
                "y": {"field": "l", "type": "quantitative", "scale": {"type": "log", "domain": [72.69, 133.28]}, "title": null},
                "y2": {"field": "h"},
                "color": {"condition": {"test": "datum.c >= datum.o", "value": "#26a69a"}, "value": "#ef5350"}
              }
            },
            {
              "data": {"name": "candles"},
              "mark": {"type": "bar", "size": 2.6, "clip": true},
              "encoding": {
                "x": {"field": "t", "type": "temporal", "axis": null},
                "y": {"field": "o", "type": "quantitative", "scale": {"type": "log", "domain": [72.69, 133.28]}, "title": null},
                "y2": {"field": "c"},
                "color": {"condition": {"test": "datum.c >= datum.o", "value": "#26a69a"}, "value": "#ef5350"}
              }
            },
            {
              "data": {"values": [{}]},
              "mark": {"type": "text", "text": "COMP / US Dollar (calculated by TradingView), 4h, BINANCE", "align": "left", "baseline": "middle", "fontSize": 13, "fontWeight": 600, "color": "#131722"},
              "encoding": {
                "x": {"datum": {"year": 2020, "month": 9, "date": 17, "hours": 5, "minutes": 37, "utc": true}, "type": "temporal"},
                "y": {"datum": 128.56, "type": "quantitative", "scale": {"type": "log", "domain": [72.69, 133.28]}}
              }
            },
            {
              "data": {"values": [{}]},
              "mark": {"type": "text", "text": "Vol", "align": "left", "baseline": "middle", "fontSize": 13, "color": "#131722"},
              "encoding": {
                "x": {"datum": {"year": 2020, "month": 9, "date": 17, "hours": 5, "minutes": 37, "utc": true}, "type": "temporal"},
                "y": {"datum": 124.5, "type": "quantitative", "scale": {"type": "log", "domain": [72.69, 133.28]}}
              }
            },
            {
              "data": {"values": [{}]},
              "mark": {"type": "text", "text": "3MA BB", "align": "left", "baseline": "middle", "fontSize": 13, "color": "#131722"},
              "encoding": {
                "x": {"datum": {"year": 2020, "month": 9, "date": 17, "hours": 5, "minutes": 37, "utc": true}, "type": "temporal"},
                "y": {"datum": 120.65, "type": "quantitative", "scale": {"type": "log", "domain": [72.69, 133.28]}}
              }
            },
            {
              "data": {"values": [{}]},
              "mark": {"type": "rule", "color": "#e0e3eb", "strokeWidth": 1},
              "encoding": {
                "x": {"datum": {"year": 2020, "month": 11, "date": 13, "hours": 21, "minutes": 3, "utc": true}, "type": "temporal"}
              }
            },
            {
              "data": {"values": [{}]},
              "mark": {"type": "rule", "color": "#e0e3eb", "strokeWidth": 1},
              "encoding": {
                "x": {"datum": {"year": 2020, "month": 11, "date": 10, "hours": 4, "minutes": 38, "utc": true}, "type": "temporal"},
                "x2": {"datum": {"year": 2020, "month": 11, "date": 13, "hours": 21, "minutes": 3, "utc": true}},
                "y": {"datum": 133.28, "type": "quantitative", "scale": {"type": "log", "domain": [72.69, 133.28]}}
              }
            },
            {
              "data": {"values": [{}]},
              "mark": {"type": "rect", "color": "#26a69a"},
              "encoding": {
                "x": {"datum": {"year": 2020, "month": 11, "date": 10, "hours": 4, "minutes": 38, "utc": true}, "type": "temporal"},
                "x2": {"datum": {"year": 2020, "month": 11, "date": 13, "hours": 18, "minutes": 49, "utc": true}},
                "y": {"datum": 92.65, "type": "quantitative", "scale": {"type": "log", "domain": [72.69, 133.28]}},
                "y2": {"datum": 89.84}
              }
            },
            {
              "data": {"values": [{}]},
              "mark": {"type": "rect", "color": "#26a69a"},
              "encoding": {
                "x": {"datum": {"year": 2020, "month": 11, "date": 10, "hours": 19, "minutes": 0, "utc": true}, "type": "temporal"},
                "x2": {"datum": {"year": 2020, "month": 11, "date": 13, "hours": 18, "minutes": 49, "utc": true}},
                "y": {"datum": 89.15, "type": "quantitative", "scale": {"type": "log", "domain": [72.69, 133.28]}},
                "y2": {"datum": 86.6}
              }
            },
            {
              "data": {"values": [{}]},
              "mark": {"type": "text", "text": "91.072913", "align": "center", "baseline": "middle", "fontSize": 12, "fontWeight": "bold", "color": "white"},
              "encoding": {
                "x": {"datum": {"year": 2020, "month": 11, "date": 11, "hours": 23, "minutes": 44, "utc": true}, "type": "temporal"},
                "y": {"datum": 91.2, "type": "quantitative", "scale": {"type": "log", "domain": [72.69, 133.28]}}
              }
            },
            {
              "data": {"values": [{}]},
              "mark": {"type": "text", "text": "02:53:00", "align": "center", "baseline": "middle", "fontSize": 12, "fontWeight": "bold", "color": "white"},
              "encoding": {
                "x": {"datum": {"year": 2020, "month": 11, "date": 12, "hours": 6, "minutes": 55, "utc": true}, "type": "temporal"},
                "y": {"datum": 87.87, "type": "quantitative", "scale": {"type": "log", "domain": [72.69, 133.28]}}
              }
            },
            {
              "data": {"values": [{}]},
              "mark": {"type": "rect", "fill": "white", "stroke": "#d1d4dc", "strokeWidth": 1, "cornerRadius": 3},
              "encoding": {
                "x": {"datum": {"year": 2020, "month": 11, "date": 11, "hours": 8, "minutes": 15, "utc": true}, "type": "temporal"},
                "x2": {"datum": {"year": 2020, "month": 11, "date": 12, "hours": 18, "minutes": 32, "utc": true}},
                "y": {"datum": 131.5, "type": "quantitative", "scale": {"type": "log", "domain": [72.69, 133.28]}},
                "y2": {"datum": 127.0}
              }
            },
            {
              "data": {"values": [{}]},
              "mark": {"type": "text", "text": "USD", "align": "center", "baseline": "middle", "fontSize": 11, "color": "#131722"},
              "encoding": {
                "x": {"datum": {"year": 2020, "month": 11, "date": 12, "hours": 1, "minutes": 24, "utc": true}, "type": "temporal"},
                "y": {"datum": 129.2, "type": "quantitative", "scale": {"type": "log", "domain": [72.69, 133.28]}}
              }
            }
          ]
        }
      ],
      "resolve": {"scale": {"y": "independent"}, "axis": {"y": "independent"}}
    },
    {
      "width": 1180,
      "height": 106,
      "layer": [
        {
          "data": {"name": "candles"},
          "transform": [{"window": [{"op": "lag", "field": "m", "as": "pm"}], "sort": [{"field": "t"}]}],
          "mark": {"type": "bar", "size": 2},
          "encoding": {
            "x": {"field": "t", "type": "temporal",
                  "scale": {"type": "utc", "padding": 0, "domain": [{"year": 2020, "month": 9, "date": 16, "hours": 20, "minutes": 47, "utc": true}, {"year": 2020, "month": 11, "date": 10, "hours": 4, "minutes": 38, "utc": true}]},
                  "axis": {
                    "orient": "bottom",
                    "values": [
                      {"year": 2020, "month": 9, "date": 21, "utc": true},
                      {"year": 2020, "month": 9, "date": 25, "utc": true},
                      {"year": 2020, "month": 10, "date": 1, "utc": true},
                      {"year": 2020, "month": 10, "date": 5, "utc": true},
                      {"year": 2020, "month": 10, "date": 12, "utc": true},
                      {"year": 2020, "month": 10, "date": 19, "utc": true},
                      {"year": 2020, "month": 10, "date": 26, "utc": true},
                      {"year": 2020, "month": 11, "date": 1, "utc": true},
                      {"year": 2020, "month": 11, "date": 5, "utc": true},
                      {"year": 2020, "month": 11, "date": 9, "utc": true}
                    ],
                    "labelExpr": "utcdate(datum.value) == 1 ? utcFormat(datum.value, '%b') : utcFormat(datum.value, '%-d')",
                    "labelFontSize": 12,
                    "labelPadding": 6,
                    "tickSize": 4,
                    "labelOverlap": false,
                    "title": "TradingView",
                    "titleFontSize": 14,
                    "titleFontWeight": "normal",
                    "titleColor": "#131722",
                    "titleAlign": "left",
                    "titleBaseline": "middle",
                    "titleX": 28,
                    "titleY": 47
                  }},
            "y": {"field": "m", "type": "quantitative",
                  "scale": {"domain": [-8.13, 4.414]},
                  "axis": {"orient": "right", "title": null, "values": [-4, 0, 4], "format": ".6f", "tickSize": 5, "labelPadding": 4}},
            "color": {
              "condition": [
                {"test": "datum.m >= 0 && (datum.pm == null || datum.m >= datum.pm)", "value": "#26a69a"},
                {"test": "datum.m >= 0", "value": "#b2dfdb"},
                {"test": "datum.pm == null || datum.m < datum.pm", "value": "#ff5252"}
              ],
              "value": "#ffcdd2"
            }
          }
        },
        {
          "data": {"name": "macd"},
          "mark": {"type": "line", "strokeWidth": 1.3, "clip": true, "interpolate": "monotone"},
          "encoding": {
            "x": {"field": "t", "type": "temporal"},
            "y": {"field": "v", "type": "quantitative"},
            "color": {"field": "s", "type": "nominal", "legend": null,
                      "scale": {"domain": ["ma1", "ma2", "ma3", "macd", "signal"], "range": ["#fbc02d", "#2196f3", "#d32f2f", "#2196f3", "#ff6d00"]}}
          }
        },
        {
          "data": {"values": [{}]},
          "mark": {"type": "rule", "color": "#e0e3eb", "strokeWidth": 1},
          "encoding": {
            "x": {"datum": {"year": 2020, "month": 11, "date": 13, "hours": 21, "minutes": 3, "utc": true}, "type": "temporal"}
          }
        },
        {
          "data": {"values": [{}]},
          "mark": {"type": "text", "text": "MACD", "align": "left", "baseline": "middle", "fontSize": 13, "color": "#131722"},
          "encoding": {
            "x": {"datum": {"year": 2020, "month": 9, "date": 17, "hours": 5, "minutes": 37, "utc": true}, "type": "temporal"},
            "y": {"datum": 2.37, "type": "quantitative"}
          }
        }
      ]
    }
  ],
  "config": {
    "font": "Open Sans",
    "scale": {"continuousPadding": 0},
    "view": {"stroke": "#e0e3eb", "strokeWidth": 1},
    "axis": {"labelColor": "#131722", "labelFontSize": 11.5, "tickColor": "#c3c6ce", "domain": false, "grid": false}
  }
}
